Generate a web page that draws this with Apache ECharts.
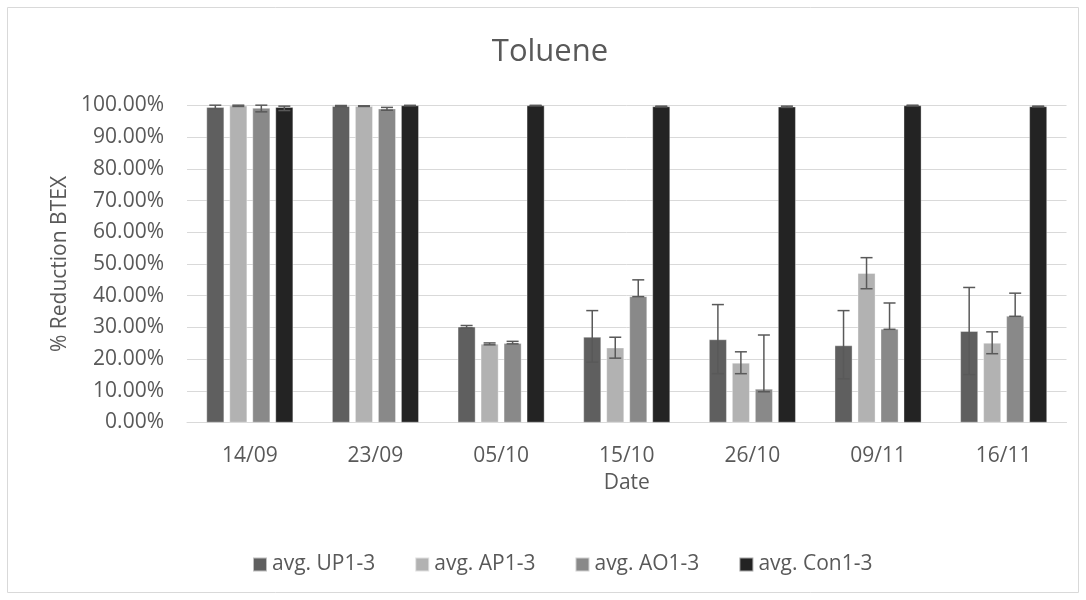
<!DOCTYPE html>
<html><head><meta charset="utf-8">
<script src="https://cdn.jsdelivr.net/npm/echarts@6/dist/echarts.min.js"></script>
<style>html,body{margin:0;padding:0;background:#fff}#c{width:1086px;height:600px}</style>
</head><body><div id="c"></div>
<script>
const categories = ['14/09','23/09','05/10','15/10','26/10','09/11','16/11'];
const seriesNames = ['avg. UP1-3','avg. AP1-3','avg. AO1-3','avg. Con1-3'];
const colors = ['#5f5f5f','#b2b2b2','#898989','#232323'];
const upValues  = [99.5, 99.8, 30.2, 27.0, 26.2, 24.3, 28.8];
const apValues  = [99.9, 99.8, 24.8, 23.6, 18.8, 47.1, 25.1];
const aoValues  = [99.2, 99.0, 25.0, 39.8, 10.6, 29.5, 33.6];
const conValues = [99.5, 100.0, 100.0, 99.7, 99.6, 100.0, 99.7];
const upErrPlus   = [0.6, 0.2, 0.4, 8.3, 11.0, 11.0, 13.8];
const upErrMinus  = [0.6, 0.2, 0.4, 8.0, 10.8, 10.5, 13.7];
const apErrPlus   = [0.2, 0.1, 0.3, 3.3, 3.5, 4.9, 3.5];
const apErrMinus  = [0.2, 0.1, 0.3, 3.3, 3.4, 4.9, 3.4];
const aoErrPlus   = [0.9, 0.4, 0.6, 5.2, 17.0, 8.2, 7.2];
const aoErrMinus  = [1.2, 0.5, 0.2, 0.1, 0.9, 0.1, 0.1];
const conErrPlus  = [0.3, 0.0, 0.0, 0.1, 0.2, 0.1, 0.1];
const conErrMinus = [1.1, 0.0, 0.0, 0.1, 0.2, 0.1, 0.1];
const yTicks = [0,10,20,30,40,50,60,70,80,90,100];

const values = [upValues, apValues, aoValues, conValues];
const errP = [upErrPlus, apErrPlus, aoErrPlus, conErrPlus];
const errM = [upErrMinus, apErrMinus, aoErrMinus, conErrMinus];

const CAT_GAP = 0.31, BAR_GAP = 0.30;
const font = "'Open Sans', 'Liberation Sans', sans-serif";

const series = [];
seriesNames.forEach((n, i) => {
  series.push({
    name: n, type: 'bar', data: values[i],
    barCategoryGap: (CAT_GAP*100)+'%', barGap: (BAR_GAP*100)+'%',
    itemStyle: {color: colors[i], borderColor: 'rgba(255,255,255,0.6)', borderWidth: 0.6},
    emphasis: {disabled: true}
  });
});
seriesNames.forEach((n, i) => {
  series.push({
    type: 'custom', z: 10, silent: true,
    data: values[i].map((v, j) => [j, v - errM[i][j], v + errP[i][j]]),
    renderItem: function (params, api) {
      const x = api.value(0);
      const lo = api.coord([x, api.value(1)]);
      const hi = api.coord([x, api.value(2)]);
      const band = api.size([1, 0])[0];
      const gw = band * (1 - CAT_GAP);
      const bw = gw / (4 + 3 * BAR_GAP);
      const cx = lo[0] - gw / 2 + i * bw * (1 + BAR_GAP) + bw / 2;
      const cap = 6;
      const st = {stroke: '#595959', lineWidth: 1.5};
      return {type: 'group', children: [
        {type: 'line', shape: {x1: cx, y1: lo[1], x2: cx, y2: hi[1]}, style: st},
        {type: 'line', shape: {x1: cx - cap, y1: hi[1], x2: cx + cap, y2: hi[1]}, style: st},
        {type: 'line', shape: {x1: cx - cap, y1: lo[1], x2: cx + cap, y2: lo[1]}, style: st}
      ]};
    }
  });
});

const chart = echarts.init(document.getElementById('c'), null, {renderer: 'canvas'});
chart.setOption({
  animation: false,
  textStyle: {fontFamily: font},
  graphic: [{type: 'rect', shape: {x: 7.5, y: 7.5, width: 1071, height: 585},
    style: {fill: 'none', stroke: '#d9d9d9', lineWidth: 1}, silent: true}],
  title: {text: 'Toluene', left: 550, textAlign: 'center', top: 37, padding: 0,
    textStyle: {fontFamily: font, fontSize: 31, fontWeight: 'normal', color: '#595959'}},
  grid: {left: 187, right: 19.5, top: 105.5, bottom: 177.5},
  legend: {data: seriesNames, top: 554, left: 252, itemWidth: 14, itemHeight: 14, itemGap: 39, padding: 0,
    icon: 'rect', textStyle: {fontFamily: font, fontSize: 21, color: '#595959'}},
  xAxis: {type: 'category', data: categories, name: 'Date', nameLocation: 'middle', nameGap: 50,
    nameTextStyle: {fontSize: 21, color: '#595959'},
    axisLine: {lineStyle: {color: '#d9d9d9', width: 1}}, axisTick: {show: false},
    axisLabel: {fontSize: 21, color: '#595959', margin: 23}},
  yAxis: {type: 'value', min: 0, max: 100, interval: 10,
    name: '% Reduction BTEX', nameLocation: 'middle', nameGap: 115, nameRotate: 90,
    nameTextStyle: {fontSize: 21, color: '#595959'},
    axisLine: {show: false}, axisTick: {show: false},
    splitLine: {lineStyle: {color: '#d9d9d9', width: 1}},
    axisLabel: {fontSize: 21, color: '#595959', margin: 23,
      formatter: v => yTicks.includes(v) ? v.toFixed(2) + '%' : ''}},
  series: series
});
</script></body></html>
